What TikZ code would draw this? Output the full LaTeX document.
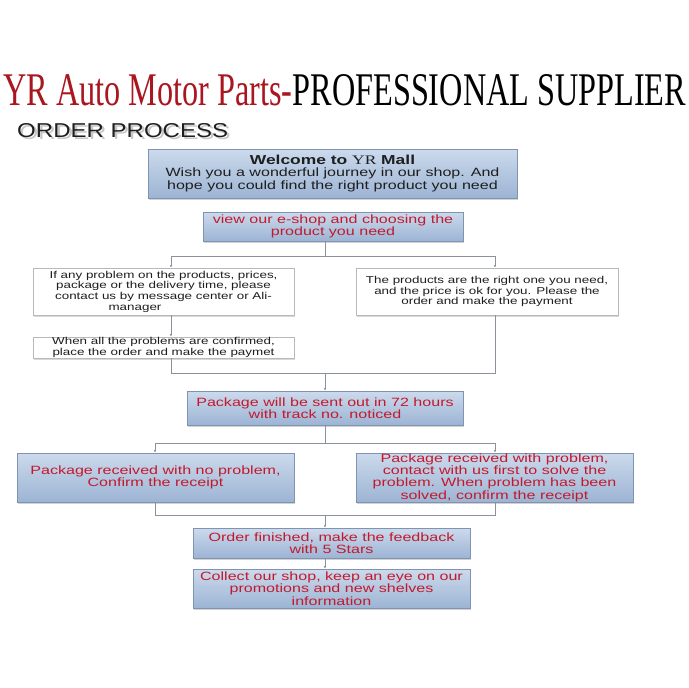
\documentclass[tikz,border=0pt]{standalone}
\usepackage{fontspec}
\usepackage{graphicx}
\usetikzlibrary{shadows,arrows.meta}
\setmainfont{Liberation Sans}
\newfontfamily\bxf[FakeStretch=1.34]{Liberation Sans}
\newfontfamily\bxserif[FakeStretch=1.34]{Liberation Serif}
\newfontfamily\ttlfont{Liberation Serif}
\newfontfamily\opfont{Liberation Sans}
\definecolor{boxtop}{RGB}{204,218,236}
\definecolor{boxbot}{RGB}{156,180,212}
\definecolor{boxborder}{RGB}{128,148,178}
\definecolor{linec}{RGB}{140,146,156}
\definecolor{txtred}{RGB}{195,25,45}
\definecolor{ttlred}{RGB}{170,22,32}
\definecolor{txtdark}{RGB}{30,30,30}
\tikzset{
  bluebox/.style={draw=boxborder, line width=0.6pt, top color=boxtop, bottom color=boxbot,
    drop shadow={opacity=0.35, shadow xshift=1.2pt, shadow yshift=-1.5pt},
    inner sep=0pt, align=center, text=txtred, font=\bxf\fontsize{12}{12.3}\selectfont},
  whitebox/.style={draw=gray!55, line width=0.6pt, fill=white,
    drop shadow={opacity=0.3, shadow xshift=1.2pt, shadow yshift=-1.5pt},
    inner sep=0pt, align=center, text=txtdark, font=\bxf\fontsize{10}{10.7}\selectfont},
  conn/.style={draw=linec, line width=0.6pt},
  arr/.style={conn, -{Latex[length=2.6pt,width=2.4pt]}},
}
\begin{document}
\begin{tikzpicture}[x=1pt,y=-1pt]
\useasboundingbox (0,0) rectangle (688,688);
\fill[white] (0,0) rectangle (688,688);
% title
\node[anchor=base west, inner sep=0pt] (title) at (3,105)
  {\resizebox{683pt}{31pt}{\ttlfont\textcolor{ttlred}{YR Auto Motor Parts-}\textcolor{black}{PROFESSIONAL SUPPLIER}}};
% order process with soft shadow
\node[anchor=base west, inner sep=0pt, opacity=0.22] (ops) at (19.5,139.5)
  {\resizebox{211pt}{14pt}{\opfont\color{black}ORDER PROCESS}};
\node[anchor=base west, inner sep=0pt] (op) at (17,137)
  {\resizebox{211pt}{14pt}{\opfont\color{txtdark}ORDER PROCESS}};
% column coordinates
\coordinate (mid) at (325,0);
\coordinate (lc) at (171,0);
\coordinate (rc) at (495,0);
\coordinate (lc2) at (155,0);
% boxes
\node[bluebox, text=txtdark, minimum width=369pt, minimum height=49pt] (w) at (332.5,173.5)
  {{\fontsize{13}{14.3}\selectfont\bfseries Welcome to {\bxserif\mdseries YR} Mall}\\
   Wish you a wonderful journey in our shop. And\\
   hope you could find the right product you need};
\node[bluebox, minimum width=260pt, minimum height=29pt] (v) at (333,226.5)
  {view our e-shop and choosing the\\ product you need};
\node[whitebox, minimum width=261pt, minimum height=47pt] (l1) at (163.5,291.5)
  {If any problem on the products, prices,\\ package or the delivery time, please\\
   contact us by message center or Ali-\\ \makebox[0pt]{manager\hspace{57pt}}};
\node[whitebox, minimum width=262pt, minimum height=47pt] (r1) at (487,291.5)
  {The products are the right one you need,\\ and the price is ok for you. Please the\\
   order and make the payment};
\node[whitebox, minimum width=261pt, minimum height=21pt] (l2) at (163.5,347.5)
  {When all the problems are confirmed,\\ place the order and make the paymet};
\node[bluebox, minimum width=276pt, minimum height=34pt] (p) at (325,408)
  {Package will be sent out in 72 hours\\ with track no. noticed};
\node[bluebox, minimum width=277pt, minimum height=49pt] (a) at (155.5,477.5)
  {Package received with no problem,\\ Confirm the receipt};
\node[bluebox, minimum width=277pt, minimum height=49pt] (b) at (494.5,477.5)
  {Package received with problem,\\ contact with us first to solve the\\
   problem. When problem has been\\ solved, confirm the receipt};
\node[bluebox, minimum width=277pt, minimum height=30pt] (o) at (331.5,543)
  {Order finished, make the feedback\\ with 5 Stars};
\node[bluebox, minimum width=277pt, minimum height=39pt] (c) at (331.5,588.5)
  {Collect our shop, keep an eye on our\\ promotions and new shelves\\ information};
% junction coordinates
\coordinate (j1) at (325,256);
\coordinate (j2) at (325,373);
\coordinate (j3) at (325,443);
\coordinate (j4) at (325,515);
% connectors
\draw[conn] (v.south -| mid) -- (j1);
\draw[arr] (j1) -| (l1.north -| lc);
\draw[arr] (j1) -| (r1.north -| rc);
\draw[arr] (l1.south -| lc) -- (l2.north -| lc);
\draw[conn] (l2.south -| lc) |- (j2);
\draw[conn] (r1.south -| rc) |- (j2);
\draw[arr] (j2) -- (p.north -| mid);
\draw[conn] (p.south -| mid) -- (j3);
\draw[arr] (j3) -| (a.north -| lc2);
\draw[arr] (j3) -| (b.north -| rc);
\draw[conn] (a.south -| lc2) |- (j4);
\draw[conn] (b.south -| rc) |- (j4);
\draw[arr] (j4) -- (o.north -| mid);
\draw[arr] (o.south -| mid) -- (c.north -| mid);
\end{tikzpicture}
\end{document}
